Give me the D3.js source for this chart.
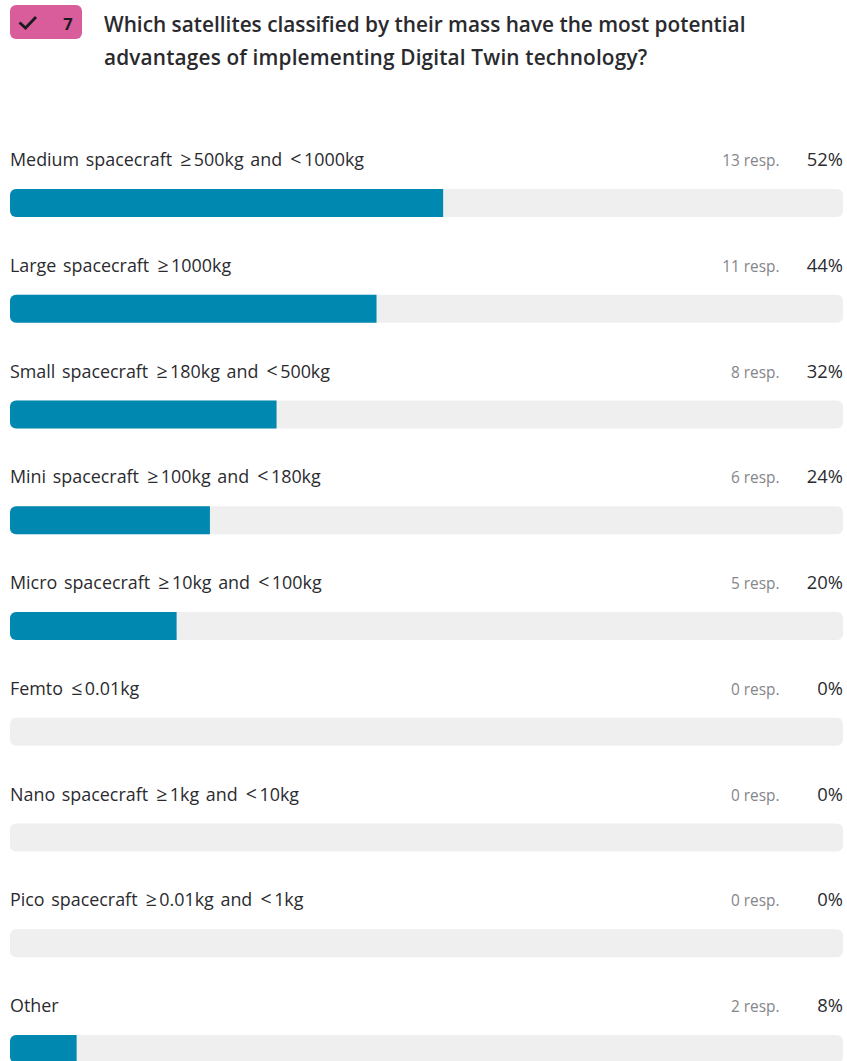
<!DOCTYPE html>
<html><head><meta charset="utf-8">
<script src="https://cdnjs.cloudflare.com/ajax/libs/d3/7.8.5/d3.min.js"></script>
<style>html,body{margin:0;padding:0;background:#fff;overflow:hidden}svg{display:block}text{font-family:"Open Sans","Noto Sans",sans-serif}</style>
</head><body>
<script>
const categories=["Medium spacecraft ≥500kg and <1000kg","Large spacecraft ≥1000kg","Small spacecraft ≥180kg and <500kg","Mini spacecraft ≥100kg and <180kg","Micro spacecraft ≥10kg and <100kg","Femto ≤0.01kg","Nano spacecraft ≥1kg and <10kg","Pico spacecraft ≥0.01kg and <1kg","Other"];
const responses=[13,11,8,6,5,0,0,0,2];
const percents=[52,44,32,24,20,0,0,0,8];
const titleLines=["Which satellites classified by their mass have the most potential","advantages of implementing Digital Twin technology?"];
const questionNumber="7";
const W=847,H=1061;
const svg=d3.select("body").append("svg").attr("width",W).attr("height",H);
const x=d3.scaleLinear().domain([0,100]).range([10,843]);
const y=d3.scaleBand().domain(categories).range([135,135+9*105.75]).paddingInner(0).paddingOuter(0);
const barTop=54,barH=28,r=6;
// header
svg.append("rect").attr("x",10).attr("y",5).attr("width",72).attr("height",34).attr("rx",6).attr("fill","#d95c9b");
svg.append("path").attr("d","M19.5 22.5 L25.5 28 L36 17").attr("fill","none").attr("stroke","#1b1b1f").attr("stroke-width",2.8);
svg.append("text").attr("x",68).attr("y",29.5).attr("text-anchor","middle").attr("font-size",16.5).attr("font-weight",700).attr("fill","#1b1b1f").text(questionNumber);
svg.selectAll("text.title").data(titleLines).join("text").attr("class","title").attr("x",104).attr("y",(d,i)=>31.5+i*33).attr("font-size",20.8).attr("font-weight",600).attr("letter-spacing",(d,i)=>i?"0.16px":null).attr("fill","#2a2a2e").text(d=>d);
// rows
const rows=svg.selectAll("g.row").data(categories.map((c,i)=>({c,n:responses[i],p:percents[i]}))).join("g").attr("class","row").attr("transform",d=>`translate(0,${y(d.c)})`);
// Comparison signs sit wider apart in the reference's font, so they get their own spans.
const isSign=s=>/^[≥≤<]$/.test(s);
rows.append("text").attr("x",10).attr("y",31).attr("font-size",17.9).attr("word-spacing","2px").attr("fill","#2b2b2f")
  .selectAll("tspan").data(d=>d.c.split(/([≥≤<])/).filter(s=>s.length)).join("tspan")
  .attr("dx",(s,i,n)=>isSign(s)?1.5:(i>0?2.5:null))
  .attr("font-size",s=>isSign(s)?19.5:null)
  .text(s=>s);
rows.append("text").attr("x",779.5).attr("y",31).attr("text-anchor","end").attr("font-size",15.4).attr("fill","#85858a").text(d=>d.n+" resp.");
rows.append("text").attr("x",843).attr("y",31).attr("text-anchor","end").attr("font-size",18.4).attr("fill","#2b2b2f").text(d=>d.p+"%");
rows.append("rect").attr("x",x(0)).attr("y",barTop).attr("width",x(100)-x(0)).attr("height",barH).attr("rx",r).attr("fill","#efefef");
rows.filter(d=>d.p>0).append("path").attr("fill","#0088b0").attr("d",d=>{
  const a=x(0),b=x(d.p),t=barTop,e=barTop+barH;
  return `M${b} ${t}H${a+r}A${r} ${r} 0 0 0 ${a} ${t+r}V${e-r}A${r} ${r} 0 0 0 ${a+r} ${e}H${b}Z`;
});
</script>
</body></html>
